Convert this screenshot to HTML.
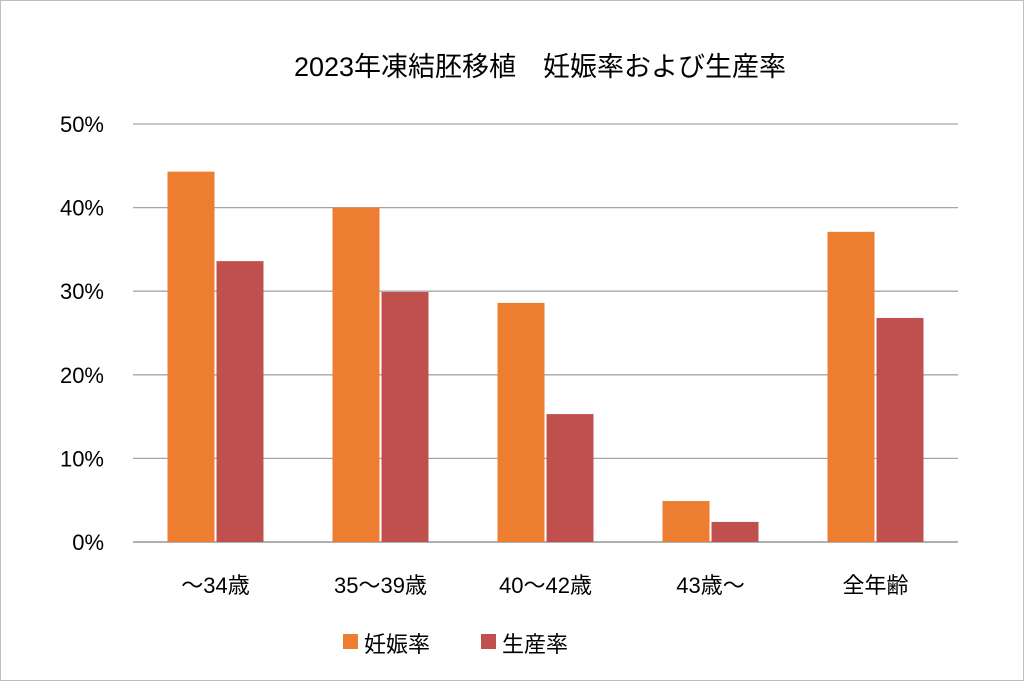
<!DOCTYPE html>
<html><head><meta charset="utf-8"><style>
html,body{margin:0;padding:0;background:#fff;}
svg{display:block;font-family:"Liberation Sans","Noto Sans CJK JP",sans-serif;}
</style></head><body>
<svg id="chart" width="1024" height="681" viewBox="0 0 1024 681">
<rect x="0.5" y="0.5" width="1023" height="680" fill="#fff" stroke="#bfbfbf"/>
<text x="540" y="76" text-anchor="middle" font-size="27" fill="#000">2023年凍結胚移植　妊娠率および生産率</text>
<g id="grid"></g><g id="bars"></g><g id="labels"></g>
<g>
<rect x="343" y="634" width="15" height="15" fill="#ed7d31"/>
<text x="364" y="652" font-size="22">妊娠率</text>
<rect x="481" y="634" width="15" height="15" fill="#c0504d"/>
<text x="502" y="652" font-size="22">生産率</text>
</g>
</svg>
<script>
const categories=["～34歳","35～39歳","40～42歳","43歳～","全年齢"];
const pregnancy=[44.3,40.0,28.6,4.9,37.1];
const birth=[33.6,29.9,15.3,2.4,26.8];
const yTicks=[0,10,20,30,40,50];
const NS="http://www.w3.org/2000/svg";
const x0=133,x1=958,y0=542,y50=124;
const y=v=>y0-(v/50)*(y0-y50);
const band=(x1-x0)/categories.length;
function el(t,a,p){const e=document.createElementNS(NS,t);for(const k in a)e.setAttribute(k,a[k]);p.appendChild(e);return e;}
const g=document.getElementById('grid'),b=document.getElementById('bars'),l=document.getElementById('labels');
yTicks.forEach(t=>{
 const ln=el('line',{x1:x0,x2:x1,y1:y(t),y2:y(t),stroke:t===0?'#808080':'#a6a6a6','stroke-width':1.3},g);
 
 
 const tx=el('text',{x:104,y:y(t)+8,'text-anchor':'end','font-size':22},l);
 tx.textContent=t+'%';
 
 
});
const bw=47;
categories.forEach((c,i)=>{
 const cx=x0+band*(i+0.5);
 const r1=el('rect',{x:cx-bw-1,y:y(pregnancy[i]),width:bw,height:y0-y(pregnancy[i]),fill:'#ed7d31'},b);
 
 
 const r2=el('rect',{x:cx+1,y:y(birth[i]),width:bw,height:y0-y(birth[i]),fill:'#c0504d'},b);
 
 
 const tx=el('text',{x:cx,y:593,'text-anchor':'middle','font-size':22},l);
 tx.textContent=c;
 
 
});
</script>
</body></html>
